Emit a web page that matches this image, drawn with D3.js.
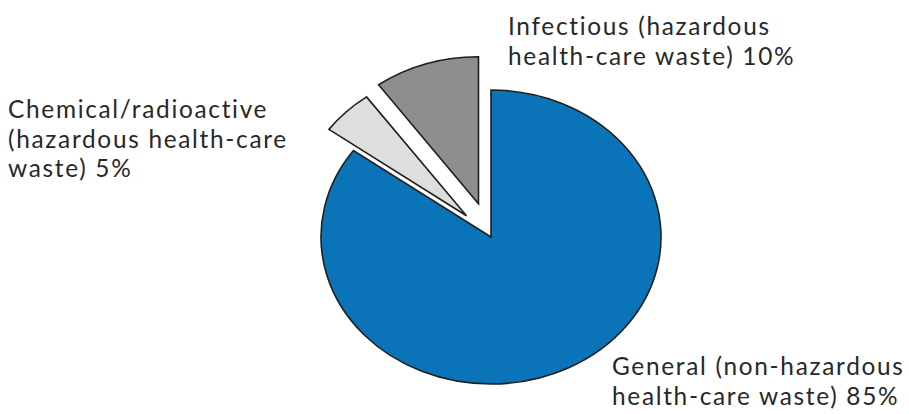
<!DOCTYPE html>
<html>
<head>
<meta charset="utf-8">
<script src="https://cdn.jsdelivr.net/npm/d3@7"></script>
<style>
  html, body { margin: 0; padding: 0; background: #ffffff; }
  svg { display: block; }
  text { font-family: Lato, "Open Sans", sans-serif; fill: #282828; }
</style>
</head>
<body>
<svg id="chart" width="909" height="414"></svg>
<script>
// ---- data ----
const categories = ["General", "Chemical/radioactive", "Infectious"];
const values = [85, 5, 10];
const colors = ["#0b73b7", "#dedede", "#8e8e8e"];
const labelLines = [
  ["General (non-hazardous", "health-care waste) 85%"],
  ["Chemical/radioactive", "(hazardous health-care", "waste) 5%"],
  ["Infectious (hazardous", "health-care waste) 10%"]
];

// ---- layout ----
const W = 909, H = 414;
const cx = 491, cy = 237;
const r = 147;
const sx = 170 / 147;
const explode = [0, 30, 35];
const labelPos = [[612, 375], [8, 118], [508, 35]];
const lineH = 29.5;
const fontSize = 24.4;

const svg = d3.select("#chart");
const pie = d3.pie().sort(null).value(d => d)(values);
const arc = d3.arc().innerRadius(0).outerRadius(r);

const g = svg.append("g").attr("transform", `translate(${cx},${cy}) scale(${sx},1)`);

g.selectAll("path")
  .data(pie)
  .join("path")
  .attr("transform", (d, i) => {
    const a = (d.startAngle + d.endAngle) / 2;
    const dd = explode[i];
    return `translate(${dd * Math.sin(a)},${-dd * Math.cos(a)})`;
  })
  .attr("d", arc)
  .attr("fill", (d, i) => colors[i])
  .attr("stroke", "#1f1f1f")
  .attr("stroke-width", 1.6)
  .attr("stroke-linejoin", "miter")
  .attr("vector-effect", "non-scaling-stroke");

// ---- labels (one text per line) ----
const lines = [];
labelLines.forEach((ls, i) => ls.forEach((t, j) => lines.push({ t, x: labelPos[i][0], y: labelPos[i][1] + j * lineH })));

svg.selectAll("text.lbl")
  .data(lines)
  .join("text")
  .attr("class", "lbl")
  .attr("x", d => d.x)
  .attr("y", d => d.y)
  .attr("font-size", fontSize)
  .attr("letter-spacing", 1.7)
  .text(d => d.t);
</script>
</body>
</html>
